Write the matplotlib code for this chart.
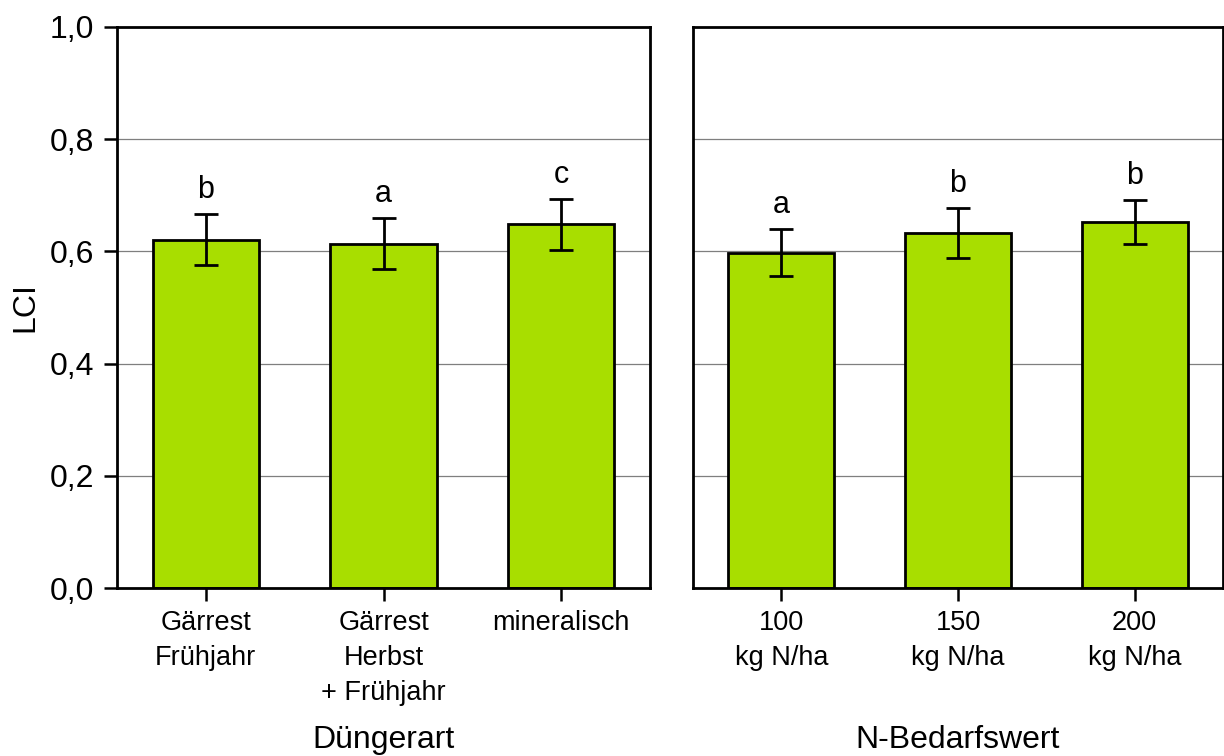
import numpy as np
import matplotlib
matplotlib.use("Agg")
import matplotlib.pyplot as plt

plt.rcParams["font.family"] = ["Liberation Sans", "DejaVu Sans"]

# =========================
# data
# =========================
duenger_labels = ["Gärrest\nFrühjahr", "Gärrest\nHerbst\n+ Frühjahr", "mineralisch"]
duenger_lci = [0.621, 0.614, 0.648]
duenger_err = [0.046, 0.045, 0.045]
duenger_letters = ["b", "a", "c"]

nbedarf_labels = ["100\nkg N/ha", "150\nkg N/ha", "200\nkg N/ha"]
nbedarf_lci = [0.598, 0.633, 0.652]
nbedarf_err = [0.042, 0.045, 0.039]
nbedarf_letters = ["a", "b", "b"]

yticks = [0.0, 0.2, 0.4, 0.6, 0.8, 1.0]
ytick_labels = ["0,0", "0,2", "0,4", "0,6", "0,8", "1,0"]

bar_color = "#a8de00"


def draw_panel(ax, labels, values, errs, letters, xlabel):
    x = np.arange(len(values))
    # gridlines behind bars
    for yt in yticks[1:-1]:
        ax.axhline(yt, color="#7f7f7f", linewidth=0.9, zorder=0)
    ax.bar(x, values, width=0.6, color=bar_color, edgecolor="black",
           linewidth=2.0, zorder=2)
    ax.errorbar(x, values, yerr=errs, fmt="none", ecolor="black",
                elinewidth=2.0, capsize=8.5, capthick=2.0, zorder=3)
    for xi, v, e, t in zip(x, values, errs, letters):
        ax.annotate(t, (xi, v + e), xytext=(0, 11.5), textcoords="offset points",
                    ha="center", va="baseline", fontsize=22)

    ax.set_xlim(-0.5, len(values) - 0.5)
    ax.set_ylim(0, 1.0)
    ax.set_xticks(x)
    ax.set_xticklabels(labels, fontsize=19.5, linespacing=1.45)
    ax.tick_params(axis="x", direction="out", length=9.5, width=1.8, pad=6)
    for s in ax.spines.values():
        s.set_linewidth(2.0)
    ax.text(0.5, -0.271, xlabel, transform=ax.transAxes, ha="center",
            va="center", fontsize=23)


fig = plt.figure(figsize=(12.24, 7.56), dpi=100)
ax1 = fig.add_axes([117 / 1224, 1 - 588 / 756, 533 / 1224, 561 / 756])
ax2 = fig.add_axes([693 / 1224, 1 - 588 / 756, 530 / 1224, 561 / 756])

draw_panel(ax1, duenger_labels, duenger_lci, duenger_err, duenger_letters, "Düngerart")
draw_panel(ax2, nbedarf_labels, nbedarf_lci, nbedarf_err, nbedarf_letters, "N-Bedarfswert")

ax1.set_yticks(yticks)
ax1.set_yticklabels(ytick_labels, fontsize=23)
ax1.tick_params(axis="y", direction="out", length=9.5, width=1.8, pad=7)
ax1.set_ylabel("LCI", fontsize=23)
ax1.yaxis.set_label_coords(-0.144, 0.5)

ax2.set_yticks([])

fig.savefig("out.png", dpi=100)
